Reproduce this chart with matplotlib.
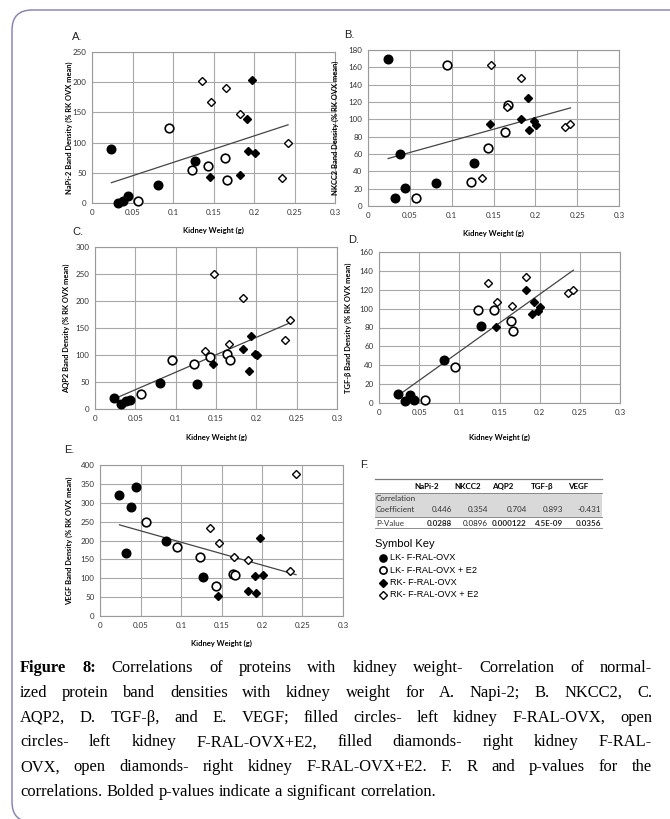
import matplotlib
matplotlib.use("Agg")
import matplotlib.pyplot as plt
from matplotlib.lines import Line2D
from matplotlib.patches import Rectangle, FancyBboxPatch
import numpy as np

W, H = 670, 819

# kidney weights (g) of the four groups, same animals in every panel
lk_ovx_x = [0.024, 0.032, 0.038, 0.044, 0.081, 0.127]
lk_e2_x = [0.057, 0.095, 0.123, 0.143, 0.164, 0.167]
rk_ovx_x = [0.146, 0.183, 0.191, 0.193, 0.198, 0.201]
rk_e2_x = [0.136, 0.147, 0.166, 0.183, 0.235, 0.242]

# band densities (% RK OVX mean)
napi2 = {
    "lk_ovx": [90, 0, 4, 11, 30, 70],
    "lk_e2": [3, 125, 54, 62, 75, 38],
    "rk_ovx": [43, 47, 139, 86, 203, 83],
    "rk_e2": [202, 168, 190, 148, 41, 100],
}
nkcc2 = {
    "lk_ovx": [170, 9, 60, 21, 27, 50],
    "lk_e2": [9, 163, 28, 67, 85, 117],
    "rk_ovx": [95, 100, 125, 88, 98, 94],
    "rk_e2": [32, 163, 114, 148, 91, 95],
}
aqp2 = {
    "lk_ovx": [20, 10, 15, 17, 49, 46],
    "lk_e2": [28, 90, 84, 97, 102, 90],
    "rk_ovx": [83, 111, 70, 136, 102, 100],
    "rk_e2": [108, 250, 121, 205, 127, 164],
}
tgfb = {
    "lk_ovx": [10, 2, 8, 3, 46, 82],
    "lk_e2": [3, 38, 99, 99, 87, 76],
    "rk_ovx": [81, 120, 94, 107, 98, 102],
    "rk_e2": [127, 107, 103, 133, 117, 120],
}
vegf = {
    "lk_ovx": [320, 166, 290, 341, 200, 104],
    "lk_e2": [250, 182, 155, 79, 111, 109],
    "rk_ovx": [53, 66, 107, 62, 206, 108],
    "rk_e2": [234, 194, 155, 148, 120, 376],
}

# table F
proteins = ["NaPi-2", "NKCC2", "AQP2", "TGF-β", "VEGF"]
corr_coef = ["0.446", "0.354", "0.704", "0.893", "-0.431"]
p_values = ["0.0288", "0.0896", "0.000122", "4.5E-09", "0.0356"]
p_bold = [True, False, True, True, True]

key_labels = ["LK- F-RAL-OVX", "LK- F-RAL-OVX + E2", "RK- F-RAL-OVX", "RK- F-RAL-OVX + E2"]

caption_lines = [
    "Correlations of proteins with kidney weight- Correlation of normal-",
    "ized protein band densities with kidney weight for A. Napi-2; B. NKCC2, C.",
    "AQP2, D. TGF-β, and E. VEGF; filled circles- left kidney F-RAL-OVX, open",
    "circles- left kidney F-RAL-OVX+E2, filled diamonds- right kidney F-RAL-",
    "OVX, open diamonds- right kidney F-RAL-OVX+E2. F. R and p-values for the",
    "correlations. Bolded p-values indicate a significant correlation.",
]

groups = [
    ("lk_ovx", lk_ovx_x, dict(marker="o", ms=6.2, mfc="black", mec="black", mew=1.0)),
    ("lk_e2", lk_e2_x, dict(marker="o", ms=6.2, mfc="white", mec="black", mew=1.2)),
    ("rk_ovx", rk_ovx_x, dict(marker="D", ms=4.0, mfc="black", mec="black", mew=1.0)),
    ("rk_e2", rk_e2_x, dict(marker="D", ms=4.0, mfc="white", mec="black", mew=1.0)),
]

UI = "Lato"


def fx(x):
    return x / W


def fy(y):
    return 1 - y / H


fig = plt.figure(figsize=(W / 100, H / 100), dpi=100)

# rounded frame round the figure
fig.patches.append(FancyBboxPatch((fx(12), fy(822)), fx(700), fy(10) - fy(822),
                                  boxstyle="round,pad=0,rounding_size=0.03",
                                  transform=fig.transFigure, fc="none",
                                  ec="#8c86b8", lw=1.1, mutation_aspect=W / H))

panels = [
    # letter, data, ylabel, ymax, ystep, box (l, r, t, b px), letter pos, ylabel x, xlabel y
    ("A.", napi2, "NaPi-2 Band Density (% RK OVX mean)", 250, 50, (92, 335, 52, 203), (72, 37), 73, 230),
    ("B.", nkcc2, "NKCC2 Band Density (% RK OVX mean)", 180, 20, (368, 619, 50, 206), (344, 35), 339, 233),
    ("C.", aqp2, "AQP2 Band Density (% RK OVX mean)", 300, 50, (95, 337, 247, 409), (72, 232), 70, 437),
    ("D.", tgfb, "TGF-β Band Density (% RK OVX mean)", 160, 20, (379, 620, 252, 403), (348, 240), 352, 437),
    ("E.", vegf, "VEGF Band Density (% RK OVX mean)", 400, 50, (100, 343, 465, 616), (64, 450), 73, 643),
]

for letter, data, ylabel, ymax, ystep, (l, r, t, b), (lx, ly), ylx, xly in panels:
    ax = fig.add_axes([fx(l), fy(b), (r - l) / W, (b - t) / H])
    allx, ally = [], []
    for key, xs, style in groups:
        ax.plot(xs, data[key], ls="none", zorder=3, clip_on=False, **style)
        allx += xs
        ally += data[key]
    k, c = np.polyfit(allx, ally, 1)
    xl = np.array([min(allx), max(allx)])
    ax.plot(xl, k * xl + c, color="#444444", lw=0.9, zorder=2)
    ax.set_xlim(0, 0.3)
    ax.set_ylim(0, ymax)
    ax.set_xticks(np.arange(0, 0.301, 0.05))
    ax.set_xticklabels(["0", "0.05", "0.1", "0.15", "0.2", "0.25", "0.3"])
    ax.set_yticks(np.arange(0, ymax + 1, ystep))
    ax.grid(True, color="#a8a8a8", lw=0.8)
    ax.set_axisbelow(True)
    for s in ax.spines.values():
        s.set_color("#9a9a9a")
        s.set_linewidth(0.8)
    ax.tick_params(length=0, pad=4, labelsize=5.8, colors="#333333")
    for lab in ax.get_xticklabels() + ax.get_yticklabels():
        lab.set_fontfamily(UI)
    ax.set_ylabel(ylabel, fontsize=5.4, fontweight="bold", family=UI)
    ax.yaxis.set_label_coords((ylx - l) / (r - l), 0.5)
    fig.text(fx((l + r) / 2), fy(xly), "Kidney Weight (g)", fontsize=5.5,
             fontweight="bold", family=UI, ha="center", va="center")
    fig.text(fx(lx), fy(ly), letter, fontsize=8, family="Liberation Sans",
             ha="left", va="center", color="#222222")

# F: table of correlation results
fig.text(fx(360), fy(465), "F.", fontsize=8, family="Liberation Sans", ha="left", va="center",
         color="#222222")
t_left, t_right = 375, 602
fig.patches.append(Rectangle((fx(t_left), fy(517)), (t_right - t_left) / W, (517 - 493) / H,
                             transform=fig.transFigure, fc="#d9d9d9", ec="none"))
for yy, lw in [(479, 0.9), (493, 0.6), (517, 0.6), (528, 0.6)]:
    fig.add_artist(Line2D([fx(t_left), fx(t_right)], [fy(yy), fy(yy)], color="#7a7a7a", lw=lw,
                          transform=fig.transFigure))
head_x = [427, 468, 503, 542, 578]
val_x = [452, 488, 527, 563, 601]
for name, hx in zip(proteins, head_x):
    fig.text(fx(hx), fy(486.5), name, fontsize=5.8, fontweight="bold", family=UI,
             ha="center", va="center")
fig.text(fx(376), fy(499), "Correlation", fontsize=5.8, family=UI, ha="left", va="center", color="#333333")
fig.text(fx(376), fy(510), "Coefficient", fontsize=5.8, family=UI, ha="left", va="center", color="#333333")
fig.text(fx(376), fy(523), "P-Value", fontsize=5.8, family=UI, ha="left", va="center", color="#333333")
for v, p, bold, vx in zip(corr_coef, p_values, p_bold, val_x):
    fig.text(fx(vx), fy(510), v, fontsize=5.8, family=UI, ha="right", va="center", color="#333333")
    fig.text(fx(vx), fy(523), p, fontsize=5.8, family=UI, ha="right", va="center",
             fontweight="bold" if bold else "normal", color="#222222")

# symbol key
fig.text(fx(375), fy(544), "Symbol Key", fontsize=8, family="Liberation Sans", ha="left", va="center")
for i, ((key, xs, style), lab) in enumerate(zip(groups, key_labels)):
    yy = 558 + i * 12.3
    st = dict(style)
    st["ms"] = 5.2 if st["marker"] == "o" else 3.7
    fig.add_artist(Line2D([fx(383)], [fy(yy)], transform=fig.transFigure, ls="none", **st))
    fig.text(fx(390), fy(yy), lab, fontsize=6.6, family="Liberation Sans", ha="left", va="center")

# caption, justified like the journal layout
fig.canvas.draw()
renderer = fig.canvas.get_renderer()
cap_left, cap_right = 20, 652
cap_fs = 11.9
for i, line in enumerate(caption_lines):
    base = 672 + i * 24.8
    words = line.split(" ")
    items = [(w, "normal") for w in words]
    if i == 0:
        items = [("Figure", "bold"), ("8:", "bold")] + items
    texts = []
    for w, weight in items:
        t = fig.text(0, fy(base), w, fontsize=cap_fs, family="Liberation Serif",
                     fontweight=weight, ha="left", va="baseline")
        texts.append(t)
    widths = [t.get_window_extent(renderer).width for t in texts]
    if i < len(caption_lines) - 1:
        gap = (cap_right - cap_left - sum(widths)) / (len(texts) - 1)
    else:
        gap = cap_fs * 100 / 72 * 0.25
    x = cap_left
    for t, wd in zip(texts, widths):
        t.set_x(fx(x))
        x += wd + gap

fig.savefig("out.png", dpi=100)
